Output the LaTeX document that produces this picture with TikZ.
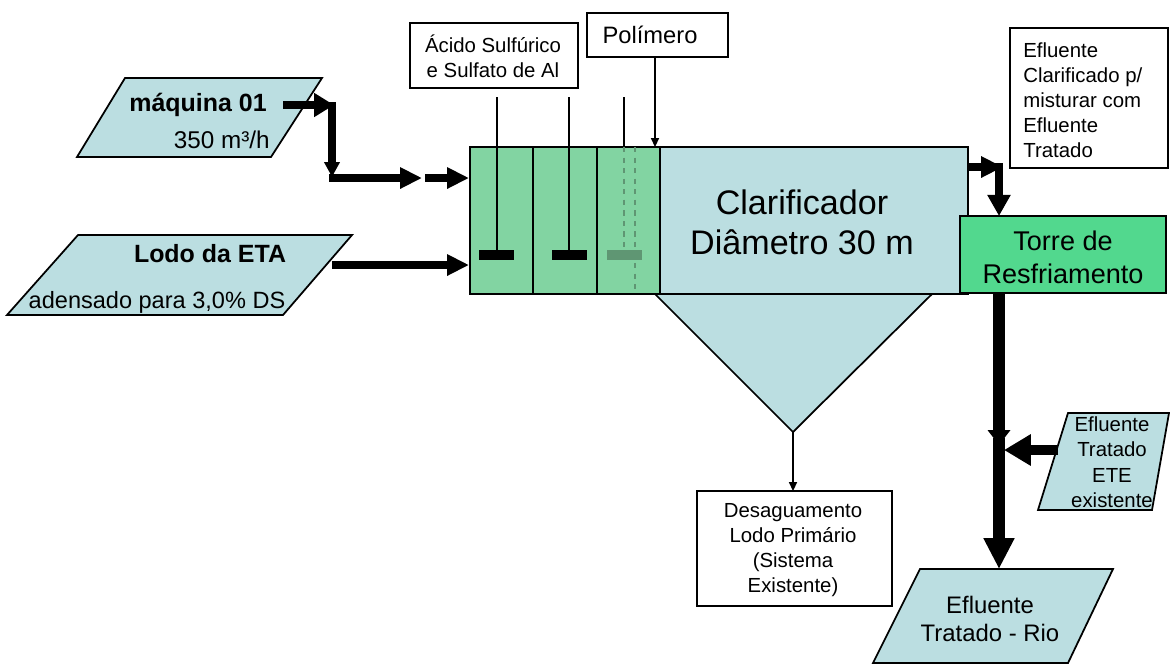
\documentclass[tikz,border=0pt]{standalone}
\usepackage{fontspec}
\setmainfont{Liberation Sans}
\usetikzlibrary{arrows.meta}
\definecolor{lblue}{RGB}{187,222,225}
\definecolor{mixgreen}{RGB}{130,212,162}
\definecolor{towgreen}{RGB}{82,216,142}
\definecolor{ghost}{RGB}{95,150,115}
\tikzset{
  shp/.style={draw=black, line width=1pt, fill=lblue, line join=miter},
  boxshape/.style={draw=black, line width=1.6pt, fill=white},
  txt/.style={inner sep=0pt, align=center},
  thk/.style={line width=4.5pt},
  thinline/.style={line width=0.9pt},
  fsmall/.style={font=\fontsize{11.6}{14.2}\selectfont},
}
\begin{document}
\begin{tikzpicture}[x=0.02cm,y=-0.02cm]
\useasboundingbox (0,0) rectangle (1170,664);

% ---------- input parallelograms ----------
\draw[shp] (125,78) -- (322,78) -- (271,157) -- (77,157) -- cycle;
\node[txt, anchor=east, font=\bfseries\fontsize{14.2}{17}\selectfont] (maq) at (267,105) {máquina 01};
\node[txt, anchor=east, font=\fontsize{13.8}{17}\selectfont] (vaz) at (270,140) {350 m³/h};

\draw[shp] (78,235) -- (352,235) -- (283,315) -- (7,315) -- cycle;
\node[txt, font=\bfseries\fontsize{14.2}{17}\selectfont] (lodo) at (210,254) {Lodo da ETA};
\node[txt, font=\fontsize{13.4}{17}\selectfont] (aden) at (157,302) {adensado para 3,0\% DS};

% ---------- clarifier cone + body ----------
\draw[shp] (655,294) -- (932,294) -- (793,432) -- cycle;
\draw[shp] (660,147) rectangle (968,294);
\node[txt, font=\fontsize{19.4}{22.7}\selectfont] (clar) at (802,222) {Clarificador\\Diâmetro 30 m};

% ---------- mixing tanks ----------
\draw[line width=1pt, fill=mixgreen] (470,147) rectangle (660,294);
\draw[line width=1pt] (533,147) -- (533,294);
\draw[line width=1pt] (597,147) -- (597,294);
% ghost stirrer (behind)
\draw[ghost, line width=0.8pt, dashed] (624,147) -- (624,250);
\draw[ghost, line width=0.8pt, dashed] (635,147) -- (635,294);
\fill[ghost] (607,250) rectangle (642,260);
\draw[thinline] (624,97) -- (624,147);
% stirrers
\draw[thinline] (497,97) -- (497,250);
\fill (479,250) rectangle (514,260);
\draw[thinline] (569,97) -- (569,250);
\fill (552,250) rectangle (587,260);

% ---------- cooling tower ----------
\draw[line width=1pt, fill=towgreen] (960,216) rectangle (1166,293);
\node[txt, font=\fontsize{15.4}{18.7}\selectfont] (torre) at (1063,257) {Torre de\\Resfriamento};

% ---------- label boxes ----------
\draw[boxshape] (410,23) rectangle (578,88);
\node[txt, fsmall] (acido) at (493,56) {Ácido Sulfúrico\\e Sulfato de Al};

\draw[boxshape] (587,13) rectangle (728,57);
\node[txt, font=\fontsize{13.5}{16}\selectfont] (poli) at (650,35) {Polímero};

\draw[boxshape] (1010,28) rectangle (1168,168);
\node[txt, fsmall, align=left, anchor=west] (eclar) at (1023,100) {Efluente\\Clarificado p/\\misturar com\\Efluente\\Tratado};

\draw[boxshape] (697,491) rectangle (892,606);
\node[txt, fsmall] (desag) at (793,550) {Desaguamento\\Lodo Primário\\(Sistema\\Existente)};

% ---------- output parallelograms ----------
\draw[shp] (1068,413) -- (1169,413) -- (1152,510) -- (1038,510) -- cycle;
\node[txt, fsmall, font=\fontsize{11.6}{14.5}\selectfont] (ete) at (1112,462) {Efluente\\Tratado\\ETE\\existente};

\draw[shp] (920,569) -- (1113,569) -- (1068,663) -- (873,663) -- cycle;
\node[txt, font=\fontsize{13.6}{15.9}\selectfont] (rio) at (990,619) {Efluente\\Tratado - Rio};

% ---------- connector coordinates ----------
\coordinate (m1) at (283,105);
\coordinate (m2) at (334,105);
\coordinate (m3) at (332,102);
\coordinate (m4) at (332,177);
\coordinate (m5) at (329,178);
\coordinate (m6) at (422,178);
\coordinate (m7) at (425,178);
\coordinate (mixA) at (469,178);
\coordinate (l1) at (332,265);
\coordinate (mixB) at (469,265);
\coordinate (c1) at (968,167);
\coordinate (c2) at (1003,167);
\coordinate (c3) at (999,163);
\coordinate (torreTop) at (999,216);
\coordinate (torreBot) at (999,293);
\coordinate (j1) at (999,445);
\coordinate (j0) at (999,438);
\coordinate (rioTop) at (999,569);
\coordinate (eteL) at (1058,450);
\coordinate (j2) at (1004,450);
\coordinate (p1) at (655,57);
\coordinate (p2) at (655,147);
\coordinate (cone) at (793,432);
\coordinate (desTop) at (793,491);

% ---------- connectors ----------
\draw[thk, -{Triangle[length=11.3pt, width=13pt]}] (m1) -- (m2);
\draw[thk, -{Triangle[length=8.5pt, width=8.5pt]}] (m3) -- (m4);
\draw[thk, -{Triangle[length=12.5pt, width=11.5pt]}] (m5) -- (m6);
\draw[thk, -{Triangle[length=12.5pt, width=11.5pt]}] (m7) -- (mixA);
\draw[thk, -{Triangle[length=12.5pt, width=11.5pt]}] (l1) -- (mixB);
\draw[line width=4pt, -{Triangle[length=12.5pt, width=11.5pt]}] (c1) -- (c2);
\draw[line width=4pt, -{Triangle[length=12pt, width=12.5pt]}] (c3) -- (torreTop);
\draw[line width=6.8pt, -{Triangle[length=8.5pt, width=12.5pt]}] (torreBot) -- (j1);
\draw[line width=6.8pt, -{Triangle[length=17.6pt, width=16.5pt]}] (j0) -- (rioTop);
\draw[line width=5.7pt, -{Triangle[length=15.3pt, width=17pt]}] (eteL) -- (j2);
\draw[thinline, -{Triangle[length=5pt, width=4.5pt]}] (p1) -- (p2);
\draw[thinline, -{Triangle[length=5pt, width=4.5pt]}] (cone) -- (desTop);
\end{tikzpicture}
\end{document}
